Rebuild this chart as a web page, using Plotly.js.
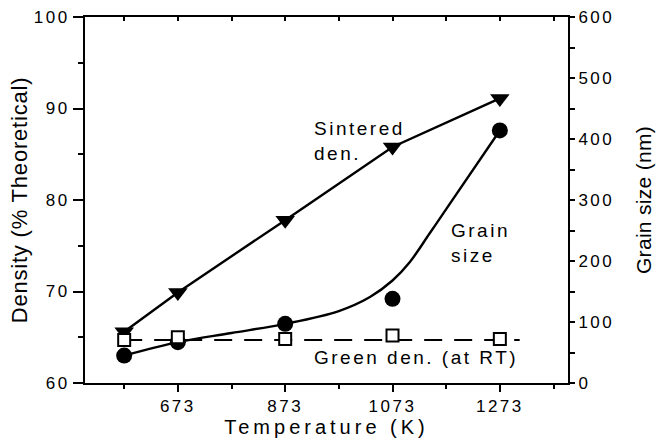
<!DOCTYPE html>
<html>
<head>
<meta charset="utf-8">
<script src="https://cdn.plot.ly/plotly-3.0.1.min.js"></script>
<style>
  html, body { margin: 0; padding: 0; background: #fff; }
  #chart { width: 664px; height: 441px; }
  text { letter-spacing: 2.5px; }
  .xtitle { letter-spacing: 4px !important; }
  .ytitle { letter-spacing: 0.8px !important; }
  .y2title { letter-spacing: 0.3px !important; }
</style>
</head>
<body>
<div id="chart"></div>
<script>
// Temperatures (K)
const tempK = [573, 673, 873, 1073, 1273];
// Sintered density (% theoretical)
const sinteredDensity = [65.6, 69.9, 77.8, 85.8, 91.1];
// Green density at room temperature (% theoretical)
const greenDensity = [64.7, 65.0, 64.8, 65.2, 64.8];
// Green density reference (dashed line)
const greenLineK = [573, 1310];
const greenLineDensity = [64.7, 64.7];
// Grain size (nm)
const grainSize = [45, 67, 97, 138, 414];
// Grain size fitted curve
const grainFitK = [573, 673, 773, 873, 973, 1031, 1073, 1105, 1142, 1173, 1273];
const grainFitNm = [45, 67, 82, 97, 118, 141, 168, 198, 245, 285, 414];
// Tick labels
const xTickVals = [673, 873, 1073, 1273];
const xTickText = ['673', '873', '1073', '1273'];

const fontFam = 'Arial, "Liberation Sans", sans-serif';

const traces = [
  { x: tempK, y: sinteredDensity, xaxis: 'x', yaxis: 'y', mode: 'lines+markers',
    line: { color: '#000', width: 2.4 },
    marker: { symbol: 'triangle-down', size: 17, color: '#000' }, showlegend: false },
  { x: grainFitK, y: grainFitNm, xaxis: 'x', yaxis: 'y2', mode: 'lines',
    line: { color: '#000', width: 2.4, shape: 'spline', smoothing: 1 }, showlegend: false },
  { x: tempK, y: grainSize, xaxis: 'x', yaxis: 'y2', mode: 'markers',
    marker: { symbol: 'circle', size: 16, color: '#000' }, showlegend: false },
  { x: greenLineK, y: greenLineDensity, xaxis: 'x2', yaxis: 'y', mode: 'lines',
    line: { color: '#000', width: 2.2, dash: '18px,12px' }, showlegend: false },
  { x: tempK, y: greenDensity, xaxis: 'x2', yaxis: 'y', mode: 'markers',
    marker: { symbol: 'square', size: 12, color: '#fff', line: { color: '#000', width: 2 } },
    showlegend: false }
];

const tickFont = { family: fontFam, size: 17, color: '#000' };

const layout = {
  width: 664, height: 441,
  margin: { l: 85, r: 96, t: 17, b: 58 },
  paper_bgcolor: '#fff', plot_bgcolor: '#fff',
  showlegend: false,
  xaxis: {
    range: [500, 1400], showgrid: false, zeroline: false,
    showline: true, linecolor: '#000', linewidth: 2,
    tickmode: 'array', tickvals: xTickVals, ticktext: xTickText,
    ticks: 'outside', ticklen: 7, tickwidth: 2, tickcolor: '#000',
    minor: { tickmode: 'linear', tick0: 573, dtick: 100, ticks: 'outside', ticklen: 4, tickwidth: 2, tickcolor: '#000', showgrid: false },
    tickfont: tickFont,
    title: { text: 'Temperature (K)', font: { family: fontFam, size: 20, color: '#000' }, standoff: 0 },
    anchor: 'y'
  },
  xaxis2: {
    range: [500, 1400], overlaying: 'x', side: 'top', anchor: 'y',
    showgrid: false, zeroline: false, showticklabels: false,
    showline: true, linecolor: '#000', linewidth: 2,
    tickmode: 'linear', tick0: 573, dtick: 100,
    ticks: 'inside', ticklen: 4, tickwidth: 2, tickcolor: '#000'
  },
  yaxis: {
    range: [60, 100], showgrid: false, zeroline: false,
    showline: true, linecolor: '#000', linewidth: 2,
    tickmode: 'linear', tick0: 60, dtick: 10,
    ticks: 'outside', ticklen: 10, tickwidth: 2, tickcolor: '#000',
    minor: { tickmode: 'linear', tick0: 60, dtick: 5, ticks: 'outside', ticklen: 5, tickwidth: 2, tickcolor: '#000', showgrid: false },
    tickfont: tickFont,
    title: { text: 'Density (% Theoretical)', font: { family: fontFam, size: 22, color: '#000' }, standoff: 0 },
    anchor: 'x'
  },
  yaxis2: {
    range: [0, 600], overlaying: 'y', side: 'right', anchor: 'x',
    showgrid: false, zeroline: false,
    showline: true, linecolor: '#000', linewidth: 2,
    tickmode: 'linear', tick0: 0, dtick: 100,
    ticks: 'outside', ticklen: 5, tickwidth: 2, tickcolor: '#000',
    minor: { tickmode: 'linear', tick0: 0, dtick: 50, ticks: 'outside', ticklen: 5, tickwidth: 2, tickcolor: '#000', showgrid: false },
    tickfont: tickFont,
    title: { text: 'Grain size (nm)', font: { family: fontFam, size: 21, color: '#000' }, standoff: 23 }
  },
  annotations: [
    { text: 'Sintered<br>den.', x: 923, y: 86.46, xref: 'x', yref: 'y', xanchor: 'left', yanchor: 'middle',
      align: 'left', showarrow: false, font: { family: fontFam, size: 19, color: '#000' } },
    { text: 'Grain<br>size', x: 1179, y: 75.3, xref: 'x', yref: 'y', xanchor: 'left', yanchor: 'middle',
      align: 'left', showarrow: false, font: { family: fontFam, size: 19, color: '#000' } },
    { text: 'Green den. (at RT)', x: 923, y: 62.79, xref: 'x', yref: 'y', xanchor: 'left', yanchor: 'middle',
      align: 'left', showarrow: false, font: { family: fontFam, size: 19, color: '#000' } }
  ]
};

Plotly.newPlot('chart', traces, layout, { displayModeBar: false, staticPlot: true });
</script>
</body>
</html>
